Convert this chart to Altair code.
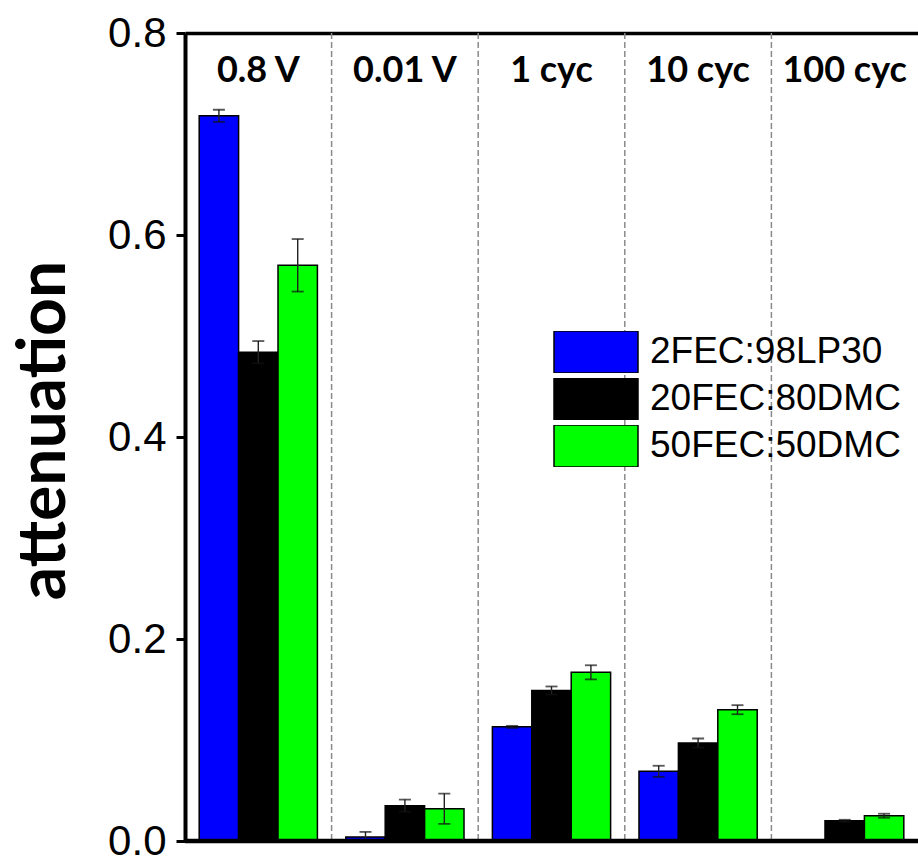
import altair as alt
import pandas as pd

groups = ["0.8 V", "0.01 V", "1 cyc", "10 cyc", "100 cyc"]
series = ["2FEC:98LP30", "20FEC:80DMC", "50FEC:50DMC"]
colors = ["#0000ff", "#000000", "#00ff00"]

vals_2fec = [0.718, 0.004, 0.113, 0.069, 0.0]
vals_20fec = [0.484, 0.035, 0.149, 0.097, 0.020]
vals_50fec = [0.570, 0.032, 0.167, 0.130, 0.025]
err_2fec = [0.006, 0.005, 0.001, 0.0055, 0.0]
err_20fec = [0.011, 0.006, 0.004, 0.0045, 0.001]
err_50fec = [0.026, 0.015, 0.007, 0.0045, 0.002]

rows = []
for s, vals, errs in zip(series, [vals_2fec, vals_20fec, vals_50fec], [err_2fec, err_20fec, err_50fec]):
    for g, v, e in zip(groups, vals, errs):
        rows.append({"group": g, "series": s, "value": v, "lo": v - e, "hi": v + e, "err": e})
df = pd.DataFrame(rows)
df_err = df[df["err"] > 0]
sep_df = pd.DataFrame({"group": groups[1:]})

x_axis = alt.Axis(orient="top", title=None, ticks=False, tickSize=0, grid=False,
                  domainColor="black", domainWidth=3.5,
                  labelFont="Lato", labelFontWeight="bold", labelFontSize=36,
                  labelColor="black", labelPadding=-48, labelBaseline="alphabetic",
                  labelOverlap=False, labelAngle=0)
x_scale = alt.Scale(domain=groups, paddingInner=0, paddingOuter=0)


def xenc(**kw):
    return alt.X("group:N", sort=groups, scale=x_scale, axis=x_axis, title=None, **kw)


xo = alt.XOffset("series:N", sort=series,
                 scale=alt.Scale(domain=series, paddingOuter=0.36, paddingInner=0))

y_axis = alt.Axis(values=[0, 0.2, 0.4, 0.6, 0.8], format=".1f", grid=False,
                  domainColor="black", domainWidth=4, tickColor="black", tickWidth=3,
                  tickSize=9, labelFont="Liberation Sans", labelFontSize=42,
                  labelColor="black", labelPadding=10,
                  titleX=-121, titleY=397, titleAngle=270, titleAlign="center",
                  titleBaseline="alphabetic", titleFont="Lato", titleFontWeight="bold",
                  titleFontSize=66, titleColor="black")
y_scale = alt.Scale(domain=[0, 0.8], nice=False, zero=True)

seps = alt.Chart(sep_df).mark_rule(color="#8a8a8a", strokeWidth=1.5, strokeDash=[6, 3]).encode(
    x=xenc(bandPosition=0)
)

bars = alt.Chart(df).mark_bar(stroke="black", strokeWidth=1.5).encode(
    x=xenc(),
    xOffset=xo,
    y=alt.Y("value:Q", scale=y_scale, axis=y_axis, title="attenuation"),
    fill=alt.Fill("series:N", scale=alt.Scale(domain=series, range=colors),
                  legend=alt.Legend(title=None, orient="none", legendX=368, legendY=298,
                                    symbolType="M-1,-0.5H1V0.5H-1Z", symbolSize=7056,
                                    symbolStrokeColor="black", symbolStrokeWidth=1.5,
                                    symbolOpacity=1, clipHeight=42, rowPadding=5,
                                    labelFont="Liberation Sans", labelFontSize=37,
                                    labelOffset=11, labelColor="black", labelLimit=0,
                                    padding=0)),
)

err_rule = alt.Chart(df_err).mark_rule(color="#222222", strokeWidth=1.4).encode(
    x=xenc(), xOffset=xo,
    y=alt.Y("lo:Q", scale=y_scale, axis=y_axis, title="attenuation"),
    y2="hi:Q",
)
cap_lo = alt.Chart(df_err).mark_tick(color="#111111", thickness=1.8, size=12).encode(
    x=xenc(), xOffset=xo,
    y=alt.Y("lo:Q", scale=y_scale, axis=y_axis, title="attenuation"),
)
cap_hi = alt.Chart(df_err).mark_tick(color="#111111", thickness=1.8, size=12).encode(
    x=xenc(), xOffset=xo,
    y=alt.Y("hi:Q", scale=y_scale, axis=y_axis, title="attenuation"),
)

zero_line = alt.Chart(pd.DataFrame({"v": [0.0]})).mark_rule(color="black", strokeWidth=4.5).encode(
    y=alt.Y("v:Q", scale=y_scale, axis=y_axis, title="attenuation")
)

chart = alt.layer(seps, bars, err_rule, cap_lo, cap_hi, zero_line).properties(
    width=733, height=808,
    autosize=alt.AutoSizeParams(type="none"),
    padding={"left": 185, "top": 33, "right": 0, "bottom": 16},
    background="white",
).configure_view(stroke=None)

chart.save("out.html", embed_options={"renderer": "svg", "actions": False})
